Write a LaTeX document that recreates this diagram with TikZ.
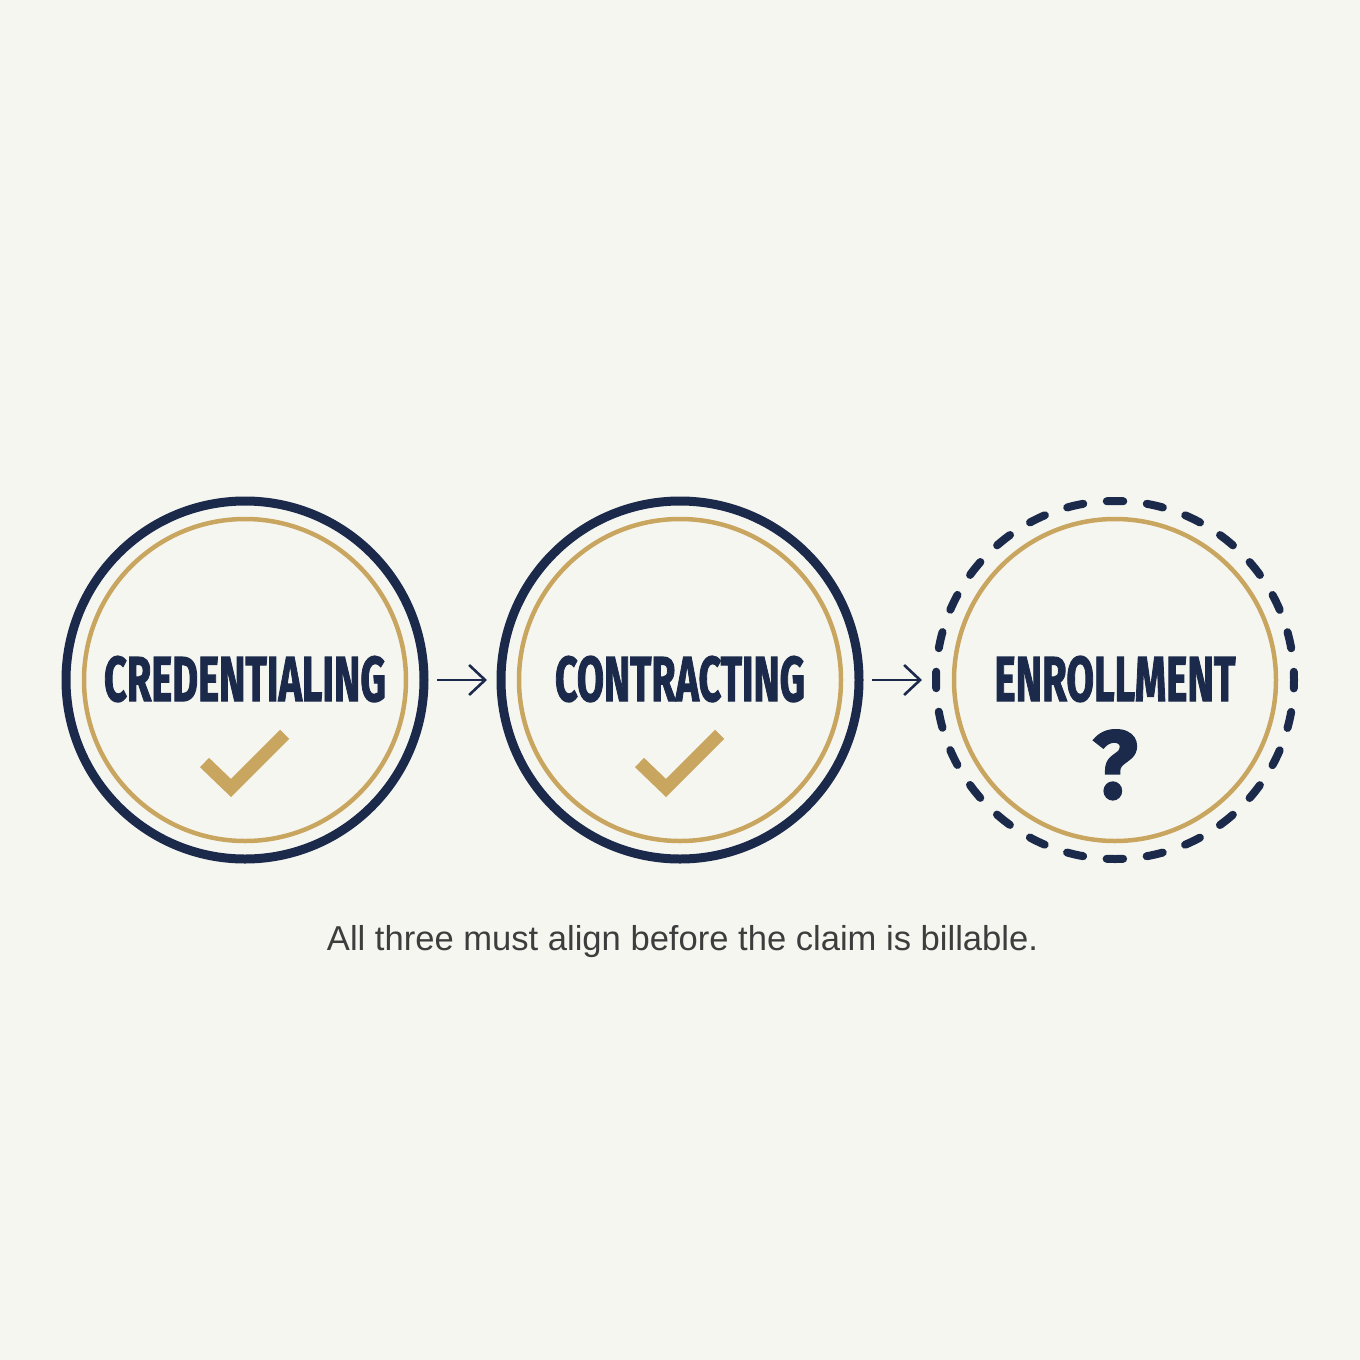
\documentclass[tikz,border=0pt]{standalone}
\usepackage{fontspec}
\setmainfont{Liberation Sans}
\newfontfamily\headfont{Fira Sans}[BoldFeatures={FakeBold=2}]
\usetikzlibrary{arrows.meta}
\definecolor{bgc}{HTML}{F6F6F1}
\definecolor{navy}{HTML}{1B2A4A}
\definecolor{gold}{HTML}{C9A660}
\definecolor{capc}{HTML}{3D3D3D}
\begin{document}
\begin{tikzpicture}[x=1pt,y=-1pt,
  ring/.style={circle,draw=navy,line width=9pt,minimum size=358pt,inner sep=0pt,outer sep=0pt},
  dashring/.style={circle,draw=navy,line width=8pt,minimum size=358pt,inner sep=0pt,outer sep=0pt,
     line cap=round,dash pattern=on 16.5pt off 23.667pt,dash phase=8.25pt},
  goldring/.style={circle,draw=gold,line width=4.5pt,minimum size=322pt,inner sep=0pt,outer sep=0pt},
  label/.style={anchor=base,inner sep=0pt,text=navy,font=\headfont\bfseries},
  tick/.style={draw=gold,line width=13pt,miter limit=10,line join=miter},
  flow/.style={draw=navy,line width=2.6pt,-{Straight Barb[length=16pt,width=30pt,line width=2.6pt]},shorten <=13pt,shorten >=14pt}
]
\fill[bgc] (0,0) rectangle (1360,1360);
\useasboundingbox (0,0) rectangle (1360,1360);

\node[ring] (c1) at (245,680) {};
\node[goldring] (g1) at (245,680) {};
\node[ring] (c2) at (680,680) {};
\node[goldring] (g2) at (680,680) {};
\node[dashring] (c3) at (1115,680) {};
\node[goldring] (g3) at (1115,680) {};

\node[label] (t1) at (245,701) {\resizebox{282pt}{45pt}{CREDENTIALING}};
\node[label] (t2) at (680,701) {\resizebox{250pt}{45pt}{CONTRACTING}};
\node[label] (t3) at (1115,701) {\resizebox{241pt}{45pt}{ENROLLMENT}};

\coordinate (k1a) at (204.5,762.5);
\coordinate (k1b) at (231,788);
\coordinate (k1c) at (284.7,734.3);
\draw[tick] (k1a) -- (k1b) -- (k1c);
\coordinate (k2a) at (639.5,762.5);
\coordinate (k2b) at (666,788);
\coordinate (k2c) at (719.7,734.3);
\draw[tick] (k2a) -- (k2b) -- (k2c);

\node[label] (q3) at (1115,798) {\resizebox{45pt}{68pt}{?}};

\draw[flow] (c1) -- (c2);
\draw[flow] (c2) -- (c3);

\node[anchor=base,inner sep=0pt,text=capc] (cap) at (682.5,950) {\resizebox{711pt}{!}{All three must align before the claim is billable.}};
\end{tikzpicture}
\end{document}
